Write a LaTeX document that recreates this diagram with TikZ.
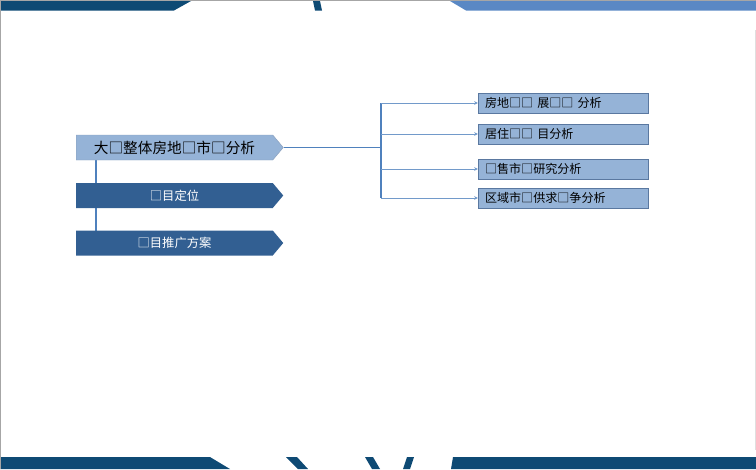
\documentclass[tikz,border=0pt]{standalone}
\usepackage{fontspec}
\setmainfont{Noto Sans CJK SC}
\usetikzlibrary{shapes.symbols,arrows.meta}
\definecolor{bandDark}{RGB}{14,74,116}
\definecolor{bandLight}{RGB}{90,136,196}
\definecolor{boxLight}{RGB}{149,179,215}
\definecolor{boxDark}{RGB}{50,95,146}
\definecolor{lineBlue}{RGB}{79,129,189}
\definecolor{edgeBlue}{RGB}{90,120,160}

\begin{document}
\begin{tikzpicture}[x=0.03cm,y=-0.03cm,
   chev/.style={signal,signal to=east,signal pointer angle=100,
    minimum width=207*0.03cm,minimum height=25*0.03cm,inner sep=0pt},
   topic/.style={chev,fill=boxLight,draw=edgeBlue!70,font=\fontsize{12.5}{13}\selectfont},
   part/.style={chev,fill=boxDark,draw=none,text=white,font=\fontsize{10.5}{11}\selectfont},
   box/.style={rectangle,draw=edgeBlue,fill=boxLight,minimum width=170*0.03cm,
    minimum height=20*0.03cm,inner sep=0pt,text width=156*0.03cm,align=left,
    font=\fontsize{10.3}{11}\selectfont},
   branch/.style={draw=lineBlue!80,line width=0.6pt,-{Stealth[length=3pt,width=3pt]}}
    ]

    \useasboundingbox (0,0) rectangle (756,469);

    % Bands:
    \fill[bandDark] (0,1) -- (191,1) -- (174,10.5) -- (0,10.5) -- cycle;
    \fill[bandDark] (313,1) -- (320,1) -- (322,10.5) -- (315,10.5) -- cycle;
    \fill[bandLight] (450,1) -- (756,1) -- (756,10.5) -- (466,10.5) -- cycle;
    \fill[bandDark] (0,457) -- (210,457) -- (230,469) -- (0,469) -- cycle;
    \fill[bandDark] (286,457) -- (297,457) -- (308,469) -- (298,469) -- cycle;
    \fill[bandDark] (365,457) -- (373,457) -- (380,469) -- (372,469) -- cycle;
    \fill[bandDark] (407,457) -- (414,457) -- (410,469) -- (403,469) -- cycle;
    \fill[bandDark] (453,457) -- (756,457) -- (756,469) -- (451,469) -- cycle;
    \draw[gray!70,line width=0.8pt] (0.5,469) -- (0.5,0.5) -- (756,0.5);
    \draw[gray!25,line width=0.5pt] (755.5,30) -- (755.5,450);

    % left line (under the boxes)
    \coordinate (ltop) at (96,158);
    \coordinate (lbot) at (96,233);
    \draw[lineBlue,line width=1.6pt] (ltop) -- (lbot);

    % Boxes:
    \node[topic] at (174.5,147.5) (main) {大□整体房地□市□分析};
    \node[part] at (174.5,195.5) (pos) {□目定位};
    \node[part] at (174.5,243) (promo) {□目推广方案};

    \node[box] at (563,103) (r1) {房地□□ 展□□ 分析};
    \node[box] at (563,134) (r2) {居住□□ 目分析};
    \node[box] at (563,169) (r3) {□售市□研究分析};
    \node[box] at (563,198) (r4) {区域市□供求□争分析};

    % arrows

    \coordinate (jn) at (381,147.5);
    \draw[lineBlue,line width=1.2pt] (main.east) -- (jn);
    \draw[lineBlue,line width=1.2pt] (jn |- r1.west) -- (jn |- r4.west);
    \draw[branch] (jn |- r1.west) -- (r1.west);
    \draw[branch] (jn |- r2.west) -- (r2.west);
    \draw[branch] (jn |- r3.west) -- (r3.west);
    \draw[branch] (jn |- r4.west) -- (r4.west);

\end{tikzpicture}
\end{document}
